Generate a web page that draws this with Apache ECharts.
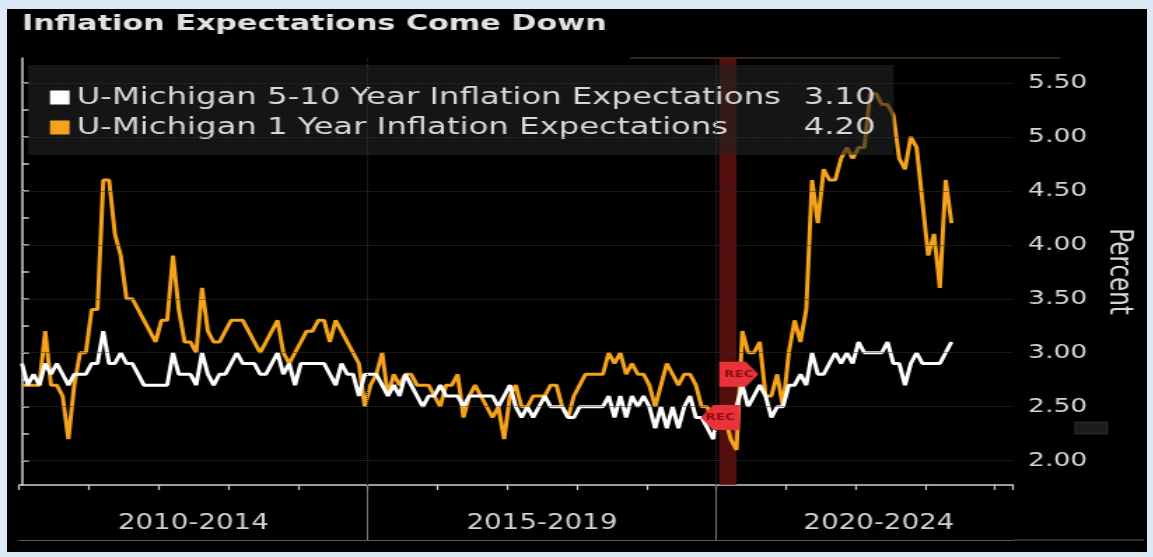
<!DOCTYPE html>
<html><head><meta charset="utf-8">
<script src="https://cdn.jsdelivr.net/npm/echarts@6/dist/echarts.min.js"></script>
<style>
html,body{margin:0;padding:0;background:#dce9f6;width:1153px;height:557px;overflow:hidden;}
#wrap{position:absolute;left:7px;top:9px;width:814px;height:543px;transform:scaleX(1.4);transform-origin:0 0;}
#chart{width:814px;height:543px;}
</style></head><body><div id="wrap"><div id="chart"></div></div>
<script>
// ---- data (monthly, Jan 2010 .. May 2023) ----
const startYear = 2010;
const oneYear = [
  2.7,2.7,2.7,2.7,3.2,2.7,2.7,2.6,2.2,2.7,3.0,3.0,
  3.4,3.4,4.6,4.6,4.1,3.9,3.5,3.5,3.4,3.3,3.2,3.1,
  3.3,3.3,3.9,3.4,3.1,3.1,3.0,3.6,3.2,3.1,3.1,3.2,
  3.3,3.3,3.3,3.2,3.1,3.0,3.1,3.2,3.3,3.0,2.9,3.0,
  3.1,3.2,3.2,3.3,3.3,3.1,3.3,3.2,3.1,3.0,2.9,2.5,
  2.7,2.8,3.0,2.6,2.8,2.7,2.8,2.8,2.7,2.7,2.7,2.6,
  2.5,2.7,2.7,2.8,2.4,2.6,2.7,2.6,2.5,2.4,2.5,2.2,
  2.6,2.7,2.5,2.5,2.6,2.6,2.6,2.7,2.7,2.5,2.4,2.6,
  2.7,2.8,2.8,2.8,2.8,3.0,2.9,3.0,2.8,2.9,2.8,2.8,
  2.7,2.5,2.7,2.9,2.8,2.7,2.8,2.8,2.7,2.5,2.5,2.3,
  2.5,2.4,2.2,2.1,3.2,3.0,3.0,3.1,2.6,2.6,2.8,2.5,
  3.0,3.3,3.1,3.4,4.6,4.2,4.7,4.6,4.6,4.8,4.9,4.8,
  4.9,4.9,5.4,5.4,5.3,5.3,5.2,4.8,4.7,5.0,4.9,4.4,
  3.9,4.1,3.6,4.6,4.2
];
const fiveTen = [
  2.9,2.7,2.8,2.7,2.9,2.8,2.9,2.8,2.7,2.8,2.8,2.8,
  2.9,2.9,3.2,2.9,2.9,3.0,2.9,2.9,2.8,2.7,2.7,2.7,
  2.7,2.7,3.0,2.8,2.8,2.8,2.7,3.0,2.8,2.7,2.8,2.8,
  2.9,3.0,2.9,2.9,2.9,2.8,2.8,2.9,3.0,2.8,2.9,2.7,
  2.9,2.9,2.9,2.9,2.9,2.8,2.7,2.9,2.8,2.8,2.6,2.8,
  2.8,2.8,2.7,2.6,2.7,2.6,2.8,2.7,2.6,2.5,2.6,2.6,
  2.7,2.6,2.6,2.6,2.5,2.6,2.6,2.6,2.6,2.6,2.5,2.6,
  2.7,2.5,2.4,2.5,2.4,2.5,2.6,2.5,2.5,2.5,2.4,2.4,
  2.5,2.5,2.5,2.5,2.5,2.6,2.4,2.6,2.4,2.6,2.5,2.6,
  2.5,2.3,2.5,2.3,2.5,2.3,2.5,2.6,2.4,2.4,2.3,2.2,
  2.5,2.3,2.5,2.5,2.7,2.5,2.6,2.7,2.6,2.4,2.5,2.5,
  2.7,2.7,2.8,2.7,3.0,2.8,2.8,2.9,3.0,2.9,3.0,2.9,
  3.1,3.0,3.0,3.0,3.0,3.1,2.9,2.9,2.7,2.9,3.0,2.9,
  2.9,2.9,2.9,3.0,3.1
];
const months = oneYear.map((_, k) => `${startYear + Math.floor(k / 12)}-${String(k % 12 + 1).padStart(2, '0')}`);
const seriesNames = ['U-Michigan 5-10 Year Inflation Expectations', 'U-Michigan 1 Year Inflation Expectations'];
const yTickLabels = [2.0, 2.5, 3.0, 3.5, 4.0, 4.5, 5.0, 5.5];
const groupLabels = ['2010-2014', '2015-2019', '2020-2024'];
const groupStarts = ['2010-01', '2015-01', '2020-01'];
const recession = ['2020-02', '2020-04'];
const recMarkerLevels = [2.4, 2.8];

// ---- helpers ----
const idx = m => { const [y, mo] = m.split('-').map(Number); return (y - startYear) * 12 + (mo - 1); };
const pts = arr => arr.map((v, k) => [idx(months[k]), v]);
const xMin = -0.5, xMax = 170.6;
const groupEdges = groupStarts.map(m => idx(m) - 0.5).concat([175.5]);
const groupCenters = groupLabels.map((_, k) => (groupEdges[k] + groupEdges[k + 1]) / 2);
const yMinor = [];
for (let v = yTickLabels[0]; v <= yTickLabels[yTickLabels.length - 1] + 1e-9; v += 0.25) yMinor.push(+v.toFixed(2));
const lastVal = {};
lastVal[seriesNames[0]] = fiveTen[fiveTen.length - 1].toFixed(2);
lastVal[seriesNames[1]] = oneYear[oneYear.length - 1].toFixed(2);

const FONT = 'DejaVu Sans';
const ORANGE = '#f5a31d';
const LEG = 23.1;
const arrowRight = 'path://M0,0 L68,0 L100,50 L68,100 L0,100 Z';
const arrowLeft = 'path://M32,0 L100,0 L100,100 L32,100 L0,50 Z';

const chart = echarts.init(document.getElementById('chart'), null, { renderer: 'canvas' });
chart.setOption({
  backgroundColor: '#000',
  animation: false,
  title: {
    text: 'Inflation Expectations Come Down', left: 10.7, top: 4, padding: 0,
    textStyle: { color: '#e2e2e2', fontFamily: FONT, fontWeight: 'bold', fontSize: 21.6 }
  },
  legend: {
    data: seriesNames, orient: 'vertical', left: 15, top: 56,
    padding: [21, 13, 16, 15.7], itemGap: 7, itemWidth: 14, itemHeight: 14,
    icon: 'rect', selectedMode: false,
    backgroundColor: 'rgba(34,34,34,0.62)',
    formatter: name => `{n|${name}}{v|${lastVal[name]}}`,
    textStyle: {
      color: '#d8d8d8', fontFamily: FONT, fontSize: LEG,
      rich: {
        n: { width: 512, color: '#d8d8d8', fontFamily: FONT, fontSize: LEG, lineHeight: 23 },
        v: { width: 58.7, align: 'right', color: '#d8d8d8', fontFamily: FONT, fontSize: LEG, lineHeight: 23 }
      }
    }
  },
  grid: { left: 8.6, right: 95.4, top: 49, bottom: 67 },
  xAxis: [
    {
      type: 'value', min: xMin, max: xMax, interval: 12,
      axisLine: { lineStyle: { color: '#cfcfcf', width: 1.5 } },
      axisTick: { show: true, length: 5, lineStyle: { color: '#cfcfcf', width: 1.2 } },
      axisLabel: { show: false }, splitLine: { show: false }
    },
    {
      type: 'value', min: xMin, max: xMax, position: 'bottom', offset: 55,
      axisLine: { lineStyle: { color: '#5e5e5e', width: 1 } },
      axisTick: { show: true, customValues: groupEdges.slice(1, 3), inside: true, length: 55, lineStyle: { color: '#777', width: 1 } },
      axisLabel: {
        customValues: groupCenters, inside: true, margin: 6,
        formatter: v => { const k = groupCenters.findIndex(c => Math.abs(c - v) < 1e-6); return k >= 0 ? groupLabels[k] : ''; },
        color: '#d2d2d2', fontFamily: 'DejaVu Sans Condensed, Liberation Sans Narrow, DejaVu Sans', fontSize: 22
      },
      splitLine: { show: false }
    }
  ],
  yAxis: {
    type: 'value', position: 'right', min: 1.775, max: 5.73,
    name: 'Percent', nameLocation: 'middle', nameRotate: -90, nameGap: 64,
    nameTextStyle: { color: '#d8d8d8', fontFamily: FONT, fontSize: 23 },
    axisLine: { show: true, lineStyle: { color: '#d0d0d0', width: 1.5 } },
    axisTick: { show: true, customValues: yMinor, length: 5, lineStyle: { color: '#d0d0d0', width: 1.5 } },
    axisLabel: { customValues: yTickLabels, formatter: v => v.toFixed(2), margin: 10.7, color: '#d6d6d6', fontFamily: FONT, fontSize: 19 },
    splitLine: { show: false }
  },
  graphic: [
    { type: 'line', shape: { x1: 718.6, y1: 531, x2: 812, y2: 531 }, style: { stroke: '#5e5e5e', lineWidth: 1 }, silent: true },
    { type: 'line', shape: { x1: 445, y1: 49, x2: 752, y2: 49 }, style: { stroke: '#4a3514', lineWidth: 1.5 }, silent: true },
    { type: 'rect', shape: { x: 763, y: 413, width: 23, height: 12 }, style: { fill: '#1c1c1c', stroke: '#2c2c2c', lineWidth: 1 }, silent: true }
  ],
  series: [
    {
      name: seriesNames[1], type: 'line', data: pts(oneYear), showSymbol: false, z: 2,
      lineStyle: { color: ORANGE, width: 3 }, itemStyle: { color: ORANGE },
      markArea: {
        silent: true, itemStyle: { color: 'rgba(105,18,18,0.8)' },
        data: [[{ xAxis: idx(recession[0]) - 1 }, { xAxis: idx(recession[1]) }]]
      },
      markLine: {
        silent: true, symbol: 'none', label: { show: false },
        lineStyle: { color: '#303030', type: 'dotted', width: 1 },
        data: yTickLabels.map(v => ({ yAxis: v })).concat(groupEdges.slice(1, 3).map(v => ({ xAxis: v })))
      },
      markPoint: {
        silent: true,
        symbolSize: [28, 25],
        itemStyle: { color: '#e8333b' },
        label: { show: true, formatter: 'REC', color: '#8a0c10', fontSize: 9.5, fontFamily: FONT, fontWeight: 'bold' },
        data: [
          { coord: [idx(recession[0]) - 0.8, recMarkerLevels[0]], symbol: arrowLeft },
          { coord: [idx(recession[1]) + 0.4, recMarkerLevels[1]], symbol: arrowRight }
        ]
      }
    },
    {
      name: seriesNames[0], type: 'line', data: pts(fiveTen), showSymbol: false, z: 3,
      lineStyle: { color: '#ffffff', width: 3 }, itemStyle: { color: '#ffffff' }
    }
  ]
});
</script></body></html>
